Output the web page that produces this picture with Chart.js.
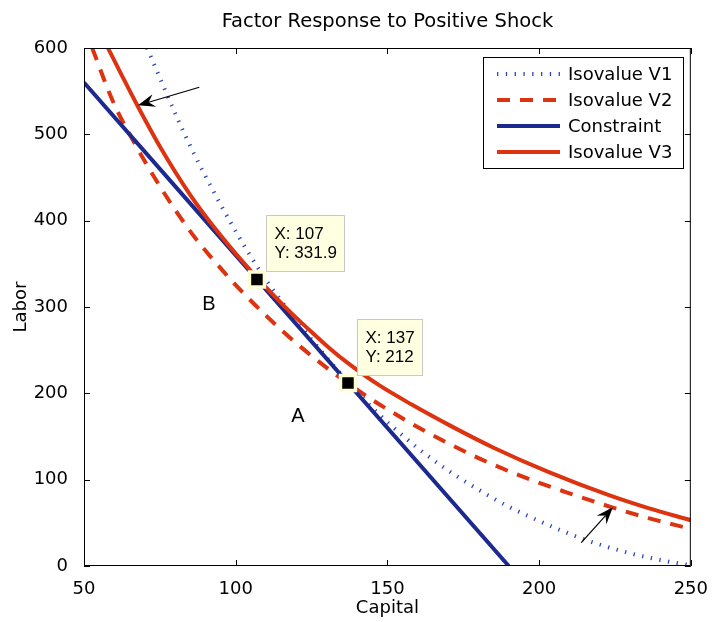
<!DOCTYPE html>
<html>
<head>
<meta charset="utf-8">
<script src="https://cdn.jsdelivr.net/npm/chart.js@4.4.1/dist/chart.umd.min.js"></script>
<style>
  html, body { margin: 0; padding: 0; background: #fff; }
</style>
</head>
<body>
<canvas id="chart" width="713" height="622"></canvas>
<script>
// values
const constraintX = [50, 190];
const constraintY = [560, 0];

const v1X = [70.8, 80.7, 86.2, 92.5, 98.8, 105.4, 110.9, 115, 125, 137, 144.8, 150.3, 160.2, 169, 178.8, 189.8, 200.8, 213.9, 230.3, 241.4, 249.7];
const v1Y = [600, 519, 478, 435, 395, 356, 327, 307, 262.5, 213, 184, 165.7, 136, 113, 91, 69, 51, 32, 14.5, 6, 1];

const v2X = [52.7, 59.3, 66, 75.5, 86, 96, 102, 110, 120, 131.7, 140.5, 147, 161, 177, 192, 208, 224, 236, 250];
const v2Y = [600, 540, 494, 437, 383, 341, 318, 290, 258, 225, 203, 188, 159, 130, 107, 86.5, 68, 55.5, 43];

const v3X = [57.9, 62, 67.5, 75, 85, 95, 107, 118, 125, 131, 137, 147, 158, 171, 185, 203, 223, 236, 250];
const v3Y = [600, 571.5, 534, 486, 430, 383, 334, 294, 271, 252, 235, 210, 187, 162, 137, 109, 82, 67, 53];

const tipX = [107, 137];
const tipY = [331.9, 212];

const arrowFrom = [[88, 554.5], [213.9, 27]];
const arrowTo = [[67.8, 533.6], [224.3, 68]];

const regionText = ["A", "B"];
const regionX = [120.5, 91.2];
const regionY = [173, 303];

const seriesNames = ["Isovalue V1", "Isovalue V2", "Constraint", "Isovalue V3"];

const BLUE = "#1c2a8f";
const DOTBLUE = "#2f47b5";
const RED = "#dd3311";
const FONT = "'DejaVu Sans', sans-serif";

const pts = (xs, ys) => xs.map((x, i) => ({ x: x, y: ys[i] }));

const styles = [
    { color: DOTBLUE, width: 4, dash: [1.3, 7.5] },
    { color: RED, width: 4, dash: [13, 10] },
    { color: BLUE, width: 4, dash: [] },
    { color: RED, width: 4, dash: [] }
];

// box, inward ticks, arrows, labels and data tips
const decorations = {
    id: "decorations",
    afterDatasetsDraw(chart) {
        const { ctx, chartArea: a, scales: { x, y } } = chart;
        ctx.save();
        ctx.strokeStyle = "#000";
        ctx.lineWidth = 1;
        ctx.setLineDash([]);
        ctx.strokeRect(a.left + 0.5, a.top + 0.5, a.right - a.left - 1, a.bottom - a.top - 1);
        ctx.beginPath();
        x.ticks.forEach(t => {
            const px = Math.round(x.getPixelForValue(t.value)) + 0.5;
            ctx.moveTo(px, a.bottom); ctx.lineTo(px, a.bottom - 6);
            ctx.moveTo(px, a.top); ctx.lineTo(px, a.top + 6);
        });
        y.ticks.forEach(t => {
            const py = Math.round(y.getPixelForValue(t.value)) + 0.5;
            ctx.moveTo(a.left, py); ctx.lineTo(a.left + 6, py);
            ctx.moveTo(a.right, py); ctx.lineTo(a.right - 6, py);
        });
        ctx.stroke();

        // region letters
        ctx.fillStyle = "#000";
        ctx.font = "20px 'Liberation Sans', sans-serif";
        ctx.textAlign = "center";
        ctx.textBaseline = "middle";
        regionText.forEach((s, i) => {
            ctx.fillText(s, x.getPixelForValue(regionX[i]), y.getPixelForValue(regionY[i]));
        });

        // arrows
        arrowFrom.forEach((f, i) => {
            const x0 = x.getPixelForValue(f[0]), y0 = y.getPixelForValue(f[1]);
            const x1 = x.getPixelForValue(arrowTo[i][0]), y1 = y.getPixelForValue(arrowTo[i][1]);
            const ang = Math.atan2(y1 - y0, x1 - x0);
            const len = 17, half = 6.5;
            const bx = x1 - len * Math.cos(ang), by = y1 - len * Math.sin(ang);
            const nx = -Math.sin(ang), ny = Math.cos(ang);
            const notchX = x1 - len * 0.65 * Math.cos(ang), notchY = y1 - len * 0.65 * Math.sin(ang);
            ctx.beginPath();
            ctx.lineWidth = 1.2;
            ctx.moveTo(x0, y0);
            ctx.lineTo(notchX, notchY);
            ctx.stroke();
            ctx.beginPath();
            ctx.moveTo(x1, y1);
            ctx.lineTo(bx + nx * half, by + ny * half);
            ctx.lineTo(notchX, notchY);
            ctx.lineTo(bx - nx * half, by - ny * half);
            ctx.closePath();
            ctx.fill();
        });

        // data tip boxes
        ctx.font = "17px 'Liberation Sans', sans-serif";
        ctx.textAlign = "left";
        tipX.forEach((tx, i) => {
            const px = x.getPixelForValue(tx), py = y.getPixelForValue(tipY[i]);
            const l1 = "X: " + tx, l2 = "Y: " + tipY[i];
            const w = Math.round(Math.max(ctx.measureText(l1).width, ctx.measureText(l2).width) + 16);
            const h = 56;
            const bx = Math.round(px + 9) + 0.5, by = Math.round(py - 8 - h) + 0.5;
            ctx.fillStyle = "#ffffe1";
            ctx.strokeStyle = "#c8c8c8";
            ctx.lineWidth = 1;
            ctx.fillRect(bx, by, w, h);
            ctx.strokeRect(bx, by, w, h);
            ctx.fillStyle = "#000";
            ctx.fillText(l1, bx + 8, by + 19);
            ctx.fillText(l2, bx + 8, by + 38);
        });
        ctx.restore();
    },
    afterDraw(chart) {
        // legend box in the upper right
        const { ctx } = chart;
        ctx.save();
        const lx = 483.5, ly = 57.5, lw = 200, lh = 111;
        ctx.fillStyle = "#fff";
        ctx.fillRect(lx, ly, lw, lh);
        ctx.strokeStyle = "#000";
        ctx.lineWidth = 1;
        ctx.strokeRect(lx, ly, lw, lh);
        ctx.font = "18px " + FONT;
        ctx.textBaseline = "middle";
        ctx.textAlign = "left";
        seriesNames.forEach((name, i) => {
            const rowY = 74 + i * 26;
            const st = styles[i];
            ctx.beginPath();
            ctx.strokeStyle = st.color;
            ctx.lineWidth = st.width;
            ctx.setLineDash(st.dash);
            ctx.moveTo(497, rowY);
            ctx.lineTo(560, rowY);
            ctx.stroke();
            ctx.setLineDash([]);
            ctx.fillStyle = "#000";
            ctx.fillText(name, 568, rowY + 1);
        });
        ctx.restore();
    }
};

const seriesData = [pts(v1X, v1Y), pts(v2X, v2Y), pts(constraintX, constraintY), pts(v3X, v3Y)];

const datasets = seriesData.map((d, i) => ({
    label: seriesNames[i],
    data: d,
    showLine: true,
    borderColor: styles[i].color,
    borderWidth: styles[i].width,
    borderDash: styles[i].dash,
    pointRadius: 0,
    fill: false,
    cubicInterpolationMode: "monotone",
    order: 5 - i
}));

datasets.push({
    label: "tips",
    data: pts(tipX, tipY),
    showLine: false,
    pointStyle: "rect",
    pointRadius: 10.6,
    pointBackgroundColor: "#000",
    pointBorderColor: "#ffffd6",
    pointBorderWidth: 3.5,
    order: 0
});

new Chart(document.getElementById("chart").getContext("2d"), {
    type: "scatter",
    data: { datasets: datasets },
    options: {
        responsive: false,
        animation: false,
        layout: { padding: { left: 0, right: 20, top: 0, bottom: 0 } },
        plugins: {
            legend: { display: false },
            tooltip: { enabled: false }
        },
        scales: {
            x: {
                type: "linear",
                min: 50, max: 250,
                grid: { display: false },
                border: { display: false },
                ticks: { stepSize: 50, color: "#000", padding: 5, font: { family: FONT, size: 18 } },
                title: { display: true, text: "Capital", color: "#000", font: { family: FONT, size: 18 }, padding: { top: 0, bottom: 3 } },
                afterFit: s => { s.height = 56; }
            },
            top: {
                type: "linear",
                position: "top",
                min: 50, max: 250,
                grid: { display: false },
                border: { display: false },
                ticks: { display: false },
                title: { display: true, text: "Factor Response to Positive Shock", color: "#000", font: { family: FONT, size: 19.5 }, padding: { top: 10.3, bottom: 0 } },
                afterFit: s => { s.height = 48; }
            },
            y: {
                type: "linear",
                min: 0, max: 600,
                grid: { display: false },
                border: { display: false },
                ticks: { stepSize: 100, color: "#000", padding: 8, font: { family: FONT, size: 18 } },
                title: { display: true, text: "Labor", color: "#000", font: { family: FONT, size: 18 }, padding: { top: 11, bottom: 0 } },
                afterFit: s => { s.width = 84; }
            }
        }
    },
    plugins: [decorations]
});
</script>
</body>
</html>
